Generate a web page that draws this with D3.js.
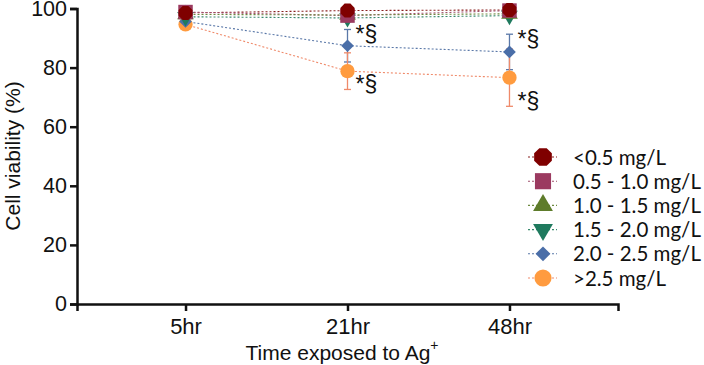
<!DOCTYPE html>
<html>
<head>
<meta charset="utf-8">
<script src="https://cdn.jsdelivr.net/npm/d3@7/dist/d3.min.js"></script>
<style>
  html, body { margin: 0; padding: 0; background: #fff; }
  svg { display: block; }
</style>
</head>
<body>
<div id="chart"></div>
<script>
// 데이터
const times = ['5hr', '21hr', '48hr'];
const groups = ['<0.5 mg/L', '0.5 - 1.0 mg/L', '1.0 - 1.5 mg/L', '1.5 - 2.0 mg/L', '2.0 - 2.5 mg/L', '>2.5 mg/L'];
const means = [
  [98.5, 99.3, 99.5],
  [98.8, 97.6, 99.3],
  [98.0, 97.8, 98.2],
  [97.2, 96.8, 97.6],
  [95.6, 87.4, 85.3],
  [94.6, 78.8, 76.6]
];
const errs = [
  [0, 0, 0],
  [0, 0, 0],
  [0, 0, 0],
  [0, 0, 0],
  [0, 5.5, 6.0],
  [0, 6.2, 9.7]
];
const yTicks = [0, 20, 40, 60, 80, 100];
// 유의성 표시 (group index, time index, side)
const marks = [[4, 1, 'up'], [4, 2, 'up'], [5, 1, 'down'], [5, 2, 'down']];

const colors = ['#7f0000', '#9b3a60', '#5e7c2b', '#1f7a5e', '#4a6ea8', '#ff9b3f'];
const lineColors = ['#8a2020', '#a0506e', '#6e8a40', '#3a8a6e', '#5a78a8', '#ef8a6a'];

// 팔각형 심볼
const symbolOctagon = {
  draw(ctx, size) {
    const r = Math.sqrt(size / 2.83);
    for (let i = 0; i < 8; i++) {
      const a = Math.PI / 8 + i * Math.PI / 4;
      const px = r * Math.cos(a), py = r * Math.sin(a);
      if (i === 0) ctx.moveTo(px, py); else ctx.lineTo(px, py);
    }
    ctx.closePath();
  }
};
// 정사각 다이아몬드
const symbolRhombus = {
  draw(ctx, size) {
    const r = Math.sqrt(size / 2);
    ctx.moveTo(0, -r); ctx.lineTo(r, 0); ctx.lineTo(0, r); ctx.lineTo(-r, 0); ctx.closePath();
  }
};
const types = [symbolOctagon, d3.symbolSquare, d3.symbolTriangle, d3.symbolTriangle, symbolRhombus, d3.symbolCircle];
const chartSizes = [160, 210, 120, 120, 80, 160];
const legendSizes = [260, 260, 170, 170, 110, 230];

const width = 704, height = 365;
const svg = d3.select('#chart').append('svg')
  .attr('width', width).attr('height', height);

const x = d3.scalePoint().domain(times).range([77, 618]).padding(0.67);
const y = d3.scaleLinear().domain([0, 100]).range([304, 8.5]);

// 축
const axisFont = 'Liberation Sans, Arial, sans-serif';
const gx = svg.append('g').attr('transform', 'translate(0,304)')
  .call(d3.axisBottom(x).tickSize(7).tickPadding(7));
gx.select('.domain').attr('stroke', '#111').attr('stroke-width', 2.5);
gx.selectAll('.tick line').attr('stroke', '#111').attr('stroke-width', 2.5);
gx.selectAll('.tick text').attr('font-family', axisFont).attr('font-size', 22).attr('fill', '#111');

const gy = svg.append('g').attr('transform', 'translate(77,0)')
  .call(d3.axisLeft(y).tickValues(yTicks).tickSize(7).tickPadding(3));
gy.select('.domain').attr('stroke', '#111').attr('stroke-width', 2.5);
gy.selectAll('.tick line').attr('stroke', '#111').attr('stroke-width', 2.5);
gy.selectAll('.tick text').attr('font-family', axisFont).attr('font-size', 21.5).attr('fill', '#111');

// 축 제목
const xt = svg.append('text').attr('x', 342).attr('y', 360)
  .attr('text-anchor', 'middle').attr('font-family', axisFont).attr('font-size', 21).attr('fill', '#111');
xt.append('tspan').text('Time exposed to Ag');
xt.append('tspan').attr('font-size', 14).attr('dy', -10).text('+');

svg.append('text').attr('transform', 'translate(20,156) rotate(-90)')
  .attr('text-anchor', 'middle').attr('font-family', axisFont).attr('font-size', 21).attr('fill', '#111')
  .text('Cell viability (%)');

// 선
const line = d3.line().x((d, i) => x(times[i])).y(d => y(d));
means.forEach((m, gi) => {
  svg.append('path').datum(m)
    .attr('d', line).attr('fill', 'none')
    .attr('stroke', lineColors[gi]).attr('stroke-width', 1.1)
    .attr('stroke-dasharray', '2,2');
});

// 오차막대
means.forEach((m, gi) => {
  m.forEach((v, ti) => {
    const e = errs[gi][ti];
    if (!e) return;
    const cx = x(times[ti]);
    const g = svg.append('g').attr('stroke', lineColors[gi]).attr('stroke-width', 1.3);
    g.append('line').attr('x1', cx).attr('x2', cx).attr('y1', y(v - e)).attr('y2', y(v + e));
    g.append('line').attr('x1', cx - 3.5).attr('x2', cx + 3.5).attr('y1', y(v - e)).attr('y2', y(v - e));
    g.append('line').attr('x1', cx - 3.5).attr('x2', cx + 3.5).attr('y1', y(v + e)).attr('y2', y(v + e));
  });
});

// 마커 (뒤에서 앞으로)
const order = [5, 4, 3, 2, 1, 0];
order.forEach(gi => {
  means[gi].forEach((v, ti) => {
    svg.append('path').attr('d', d3.symbol().type(types[gi]).size(chartSizes[gi])())
      .attr('transform', `translate(${x(times[ti])},${y(v)})` + (gi === 3 ? ' rotate(180)' : ''))
      .attr('fill', colors[gi]);
  });
});

// 유의성 표시
marks.forEach(([gi, ti, side]) => {
  const v = means[gi][ti], e = errs[gi][ti];
  const yy = side === 'up' ? y(v + e) + 13 : y(v - e) + 3;
  svg.append('text').attr('x', x(times[ti]) + 8).attr('y', yy)
    .attr('font-family', axisFont).attr('font-size', 23).attr('fill', '#111')
    .text('*§');
});

// 범례
const legend = svg.append('g').attr('transform', 'translate(528,157)');
groups.forEach((name, gi) => {
  const row = legend.append('g').attr('transform', `translate(0,${gi * 24.2})`);
  row.append('line').attr('x1', 0).attr('x2', 29).attr('y1', 0).attr('y2', 0)
    .attr('stroke', lineColors[gi]).attr('stroke-width', 1.1).attr('stroke-dasharray', '2,2');
  row.append('path').attr('d', d3.symbol().type(types[gi]).size(legendSizes[gi])())
    .attr('transform', 'translate(15,0)' + (gi === 3 ? ' rotate(180)' : ''))
    .attr('fill', colors[gi]);
  row.append('text').attr('x', 45).attr('y', 7.5)
    .attr('font-family', 'Lato, Open Sans, sans-serif').attr('font-size', 20.5).attr('fill', '#111')
    .text(name);
});
</script>
</body>
</html>
